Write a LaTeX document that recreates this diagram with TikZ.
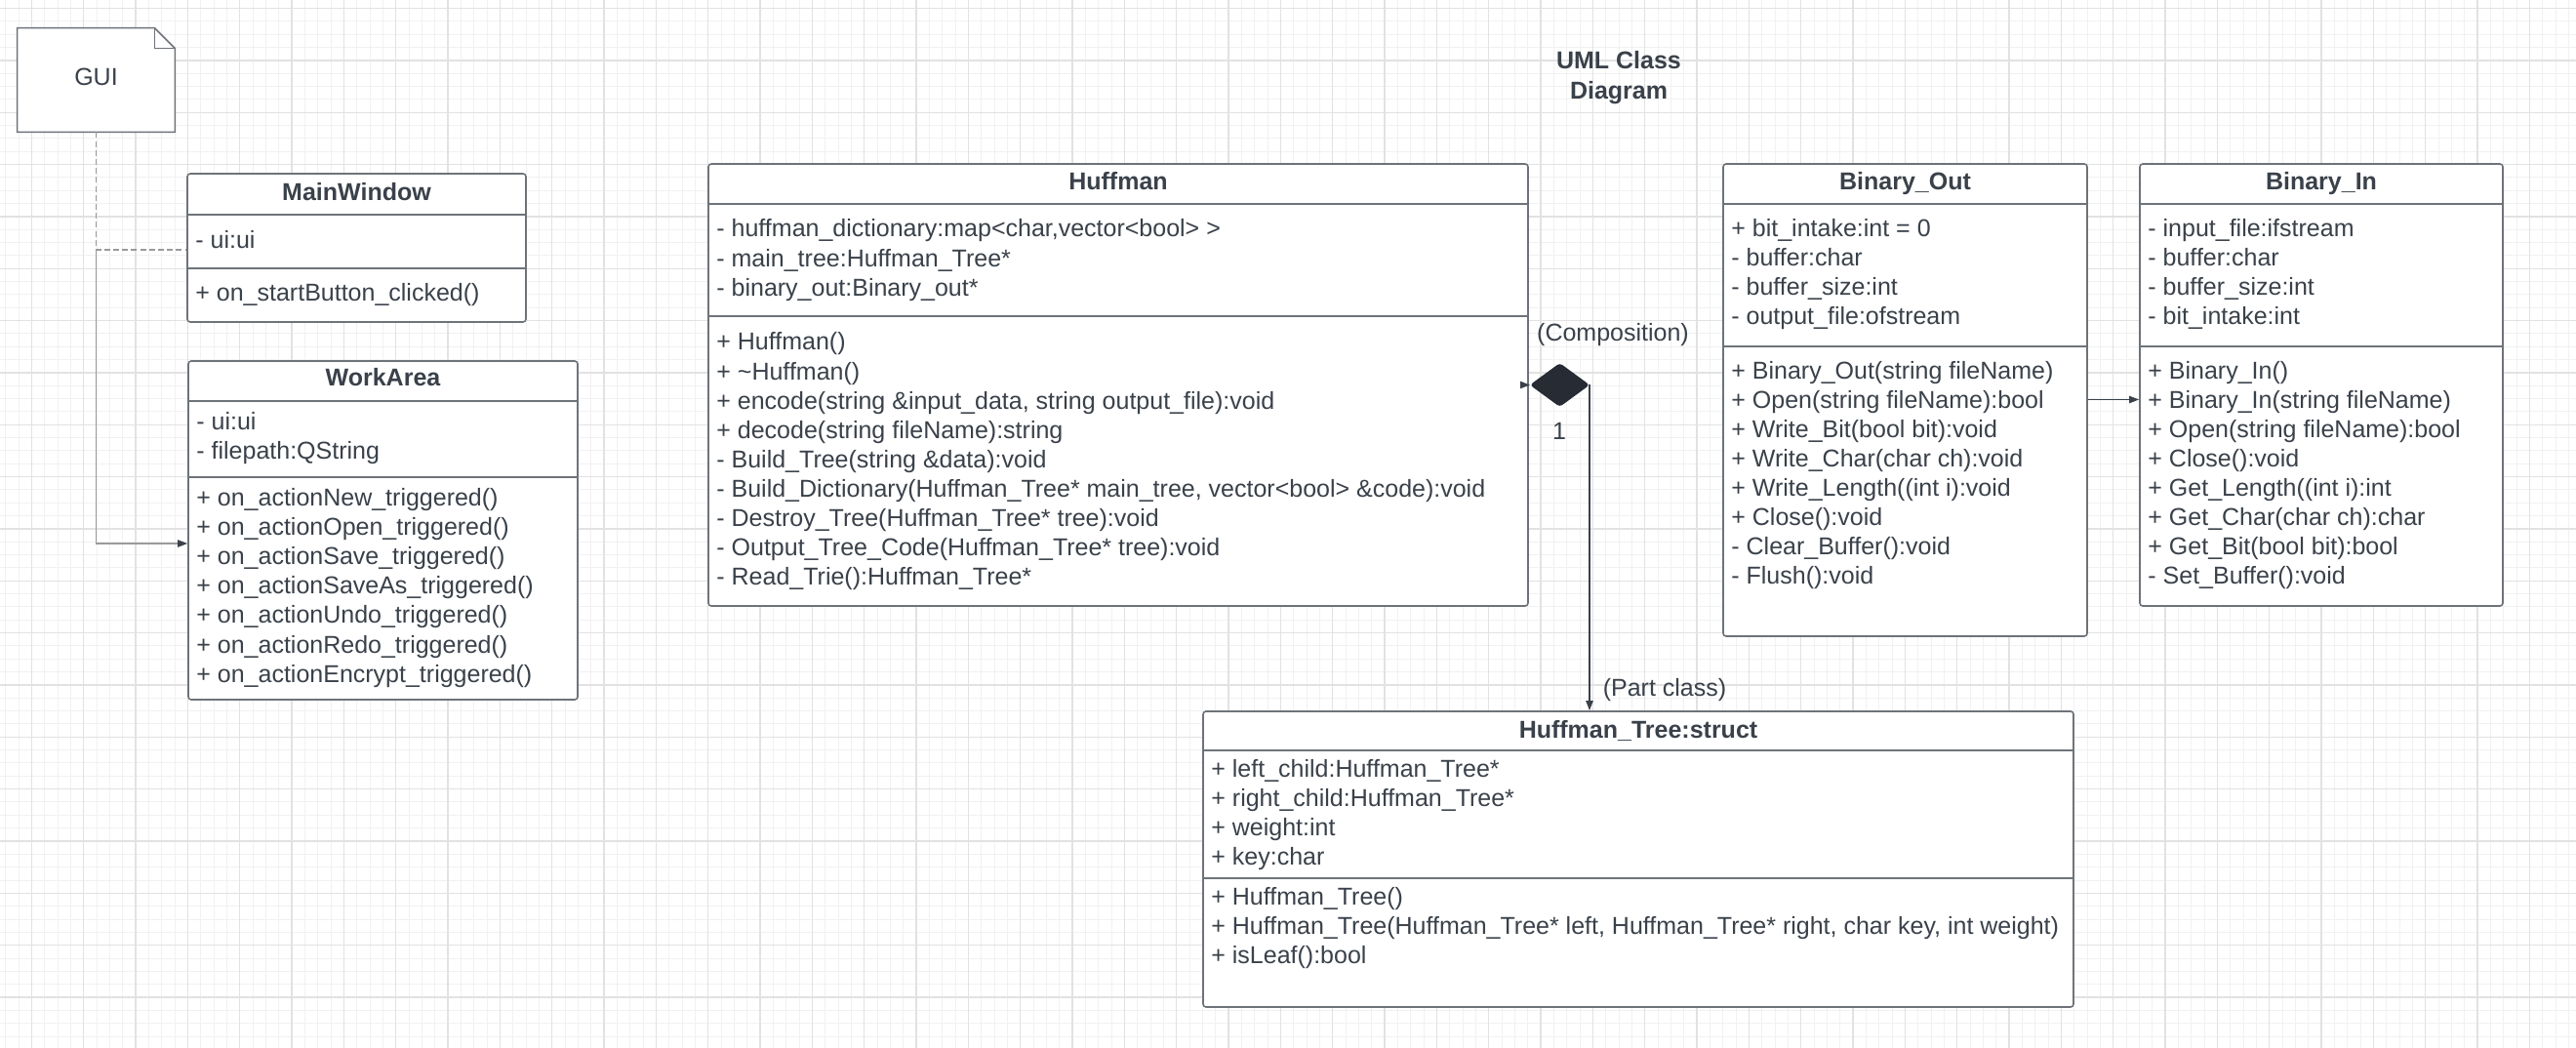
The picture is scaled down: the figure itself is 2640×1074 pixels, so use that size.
\documentclass[tikz,border=0pt]{standalone}
\usepackage{fontspec}
\setmainfont{Liberation Sans}
\usetikzlibrary{arrows.meta,shapes.geometric,fit}
\definecolor{ink}{HTML}{3A414A}
\definecolor{edgec}{HTML}{6E7379}
\definecolor{cgmin}{HTML}{F1F1F1}
\definecolor{cgmaj}{HTML}{E2E2E2}
\definecolor{diac}{HTML}{272B33}
\definecolor{lgray}{HTML}{9A9A9A}
\begin{document}
\begin{tikzpicture}[x=0.5pt,y=-0.5pt,
  every node/.style={font=\fontsize{12.5}{15.5}\selectfont, text=ink},
  gridmin/.style={draw=cgmin, line width=0.5pt},
  gridmaj/.style={draw=cgmaj, line width=0.6pt},
  box/.style={draw=edgec, line width=0.8pt, rounded corners=1.5pt, inner sep=0pt, fill=white},
  sepline/.style={draw=edgec, line width=0.8pt},
  ln/.style={anchor=base west, inner sep=0pt, yshift=-4.5pt},
  ttl/.style={anchor=base, inner sep=0pt, yshift=-4.5pt, font=\fontsize{12.5}{15.5}\selectfont\bfseries},
  conn/.style={draw=ink, line width=0.75pt},
  guiconn/.style={draw=lgray, line width=0.75pt},
  tip/.style={-{Triangle[length=5pt,width=3.6pt,color=ink]}}
]
% background and grid
\fill[white] (0,0) rectangle (2640,1074);
\useasboundingbox (0,0) rectangle (2640,1074);
\foreach \i in {0,...,197} \draw[gridmin] ({5.667+13.3333*\i},0) -- ({5.667+13.3333*\i},1074);
\foreach \i in {0,...,80} \draw[gridmin] (0,{8.667+13.3333*\i}) -- (2640,{8.667+13.3333*\i});
\foreach \i in {0,...,49} \draw[gridmaj] ({32.333+53.3333*\i},0) -- ({32.333+53.3333*\i},1074);
\foreach \i in {0,...,20} \draw[gridmaj] (0,{8.667+53.3333*\i}) -- (2640,{8.667+53.3333*\i});

% title
\node[align=center, font=\fontsize{12.5}{15.5}\selectfont\bfseries] (title) at (1659,80) {UML Class\\Diagram};

% GUI note
\node[minimum width=80.5pt, minimum height=53pt, inner sep=0pt] (gui) at (98.5,82) {};
\draw[draw=edgec, line width=0.8pt, fill=white] (gui.north west) -- ([xshift=-10.5pt]gui.north east) -- ([yshift=-10.5pt]gui.north east) -- (gui.south east) -- (gui.south west) -- cycle;
\draw[draw=edgec, line width=0.8pt] ([xshift=-10.5pt]gui.north east) |- ([yshift=-10.5pt]gui.north east);
\node (guitext) at (98.5,79) {GUI};

% MainWindow
\node[box, fit={(192,178) (539,330)}] (mw) {};
\draw[sepline] (mw.west |- 0,220) -- (mw.east |- 0,220);
\draw[sepline] (mw.west |- 0,275) -- (mw.east |- 0,275);
\node[ttl] (mwT) at (365.5,197) {MainWindow};
\node[ln] (mwA0) at (200,246) {- ui:ui};
\node[ln] (mwM0) at (200,300) {+ on\_startButton\_clicked()};

% WorkArea
\node[box, fit={(193,370) (592,717)}] (wa) {};
\draw[sepline] (wa.west |- 0,411) -- (wa.east |- 0,411);
\draw[sepline] (wa.west |- 0,489) -- (wa.east |- 0,489);
\node[ttl] (waT) at (392.5,387) {WorkArea};
\foreach \t [count=\i from 0] in {{- ui:ui},{- filepath:QString}}
  \node[ln] (waA\i) at (201,{432+30*\i}) {\t};
\foreach \t [count=\i from 0] in {{+ on\_actionNew\_triggered()},{+ on\_actionOpen\_triggered()},{+ on\_actionSave\_triggered()},{+ on\_actionSaveAs\_triggered()},{+ on\_actionUndo\_triggered()},{+ on\_actionRedo\_triggered()},{+ on\_actionEncrypt\_triggered()}}
  \node[ln] (waM\i) at (201,{510+30*\i}) {\t};

% Huffman
\node[box, fit={(726,168) (1566,621)}] (huff) {};
\draw[sepline] (huff.west |- 0,209) -- (huff.east |- 0,209);
\draw[sepline] (huff.west |- 0,324) -- (huff.east |- 0,324);
\node[ttl] (huffT) at (1146,186) {Huffman};
\foreach \t [count=\i from 0] in {{- huffman\_dictionary:map<char,vector<bool> >},{- main\_tree:Huffman\_Tree*},{- binary\_out:Binary\_out*}}
  \node[ln] (huffA\i) at (734,{234+30.2*\i}) {\t};
\foreach \t [count=\i from 0] in {{+ Huffman()},{+ \textasciitilde Huffman()},{+ encode(string \&input\_data, string output\_file):void},{+ decode(string fileName):string},{- Build\_Tree(string \&data):void},{- Build\_Dictionary(Huffman\_Tree* main\_tree, vector<bool> \&code):void},{- Destroy\_Tree(Huffman\_Tree* tree):void},{- Output\_Tree\_Code(Huffman\_Tree* tree):void},{- Read\_Trie():Huffman\_Tree*}}
  \node[ln] (huffM\i) at (734,{350+30.1*\i}) {\t};

% Binary_Out
\node[box, fit={(1766,168) (2139,652)}] (bo) {};
\draw[sepline] (bo.west |- 0,209) -- (bo.east |- 0,209);
\draw[sepline] (bo.west |- 0,355) -- (bo.east |- 0,355);
\node[ttl] (boT) at (1952.5,186) {Binary\_Out};
\foreach \t [count=\i from 0] in {{+ bit\_intake:int = 0},{- buffer:char},{- buffer\_size:int},{- output\_file:ofstream}}
  \node[ln] (boA\i) at (1774,{234+30*\i}) {\t};
\foreach \t [count=\i from 0] in {{+ Binary\_Out(string fileName)},{+ Open(string fileName):bool},{+ Write\_Bit(bool bit):void},{+ Write\_Char(char ch):void},{+ Write\_Length((int i):void},{+ Close():void},{- Clear\_Buffer():void},{- Flush():void}}
  \node[ln] (boM\i) at (1774,{380+30*\i}) {\t};

% Binary_In
\node[box, fit={(2193,168) (2565,621)}] (bi) {};
\draw[sepline] (bi.west |- 0,209) -- (bi.east |- 0,209);
\draw[sepline] (bi.west |- 0,355) -- (bi.east |- 0,355);
\node[ttl] (biT) at (2379,186) {Binary\_In};
\foreach \t [count=\i from 0] in {{- input\_file:ifstream},{- buffer:char},{- buffer\_size:int},{- bit\_intake:int}}
  \node[ln] (biA\i) at (2201,{234+30*\i}) {\t};
\foreach \t [count=\i from 0] in {{+ Binary\_In()},{+ Binary\_In(string fileName)},{+ Open(string fileName):bool},{+ Close():void},{+ Get\_Length((int i):int},{+ Get\_Char(char ch):char},{+ Get\_Bit(bool bit):bool},{- Set\_Buffer():void}}
  \node[ln] (biM\i) at (2201,{380+30*\i}) {\t};

% Huffman_Tree
\node[box, fit={(1233,729) (2125,1032)}] (ht) {};
\draw[sepline] (ht.west |- 0,769) -- (ht.east |- 0,769);
\draw[sepline] (ht.west |- 0,900) -- (ht.east |- 0,900);
\node[ttl] (htT) at (1679,747) {Huffman\_Tree:struct};
\foreach \t [count=\i from 0] in {{+ left\_child:Huffman\_Tree*},{+ right\_child:Huffman\_Tree*},{+ weight:int},{+ key:char}}
  \node[ln] (htA\i) at (1241,{787+30.3*\i}) {\t};
\foreach \t [count=\i from 0] in {{+ Huffman\_Tree()},{+ Huffman\_Tree(Huffman\_Tree* left, Huffman\_Tree* right, char key, int weight)},{+ isLeaf():bool}}
  \node[ln] (htM\i) at (1241,{918+30*\i}) {\t};

% GUI connectors
\coordinate (gj) at (98.5,256);
\coordinate (wj) at (98.5,557);
\draw[guiconn, dash pattern=on 3pt off 1.6pt] (gui.south) -- (gj) -- (mw.west |- gj);
\draw[guiconn, tip] (gj) -- (wj) -- (wa.west |- wj);

% composition
\node[diamond, fill=diac, draw=diac, line width=0.5pt, minimum width=30pt, minimum height=22pt, inner sep=0pt, rounded corners=1.5pt] (comp) at (1598.5,394.5) {};
\draw[conn, tip] (comp.east) -- (comp.east |- ht.north);
\draw[conn, tip] (huff.east |- comp.west) -- (comp.west);
\node (lcomp) at (1653,343) {(Composition)};
\node (lone) at (1598,442) {1};
\node (lpart) at (1706,707) {(Part class)};

% Binary_Out -> Binary_In
\coordinate (bl) at (2150,409.5);
\draw[conn, tip] (bo.east |- bl) -- (bi.west |- bl);
\end{tikzpicture}
\end{document}
